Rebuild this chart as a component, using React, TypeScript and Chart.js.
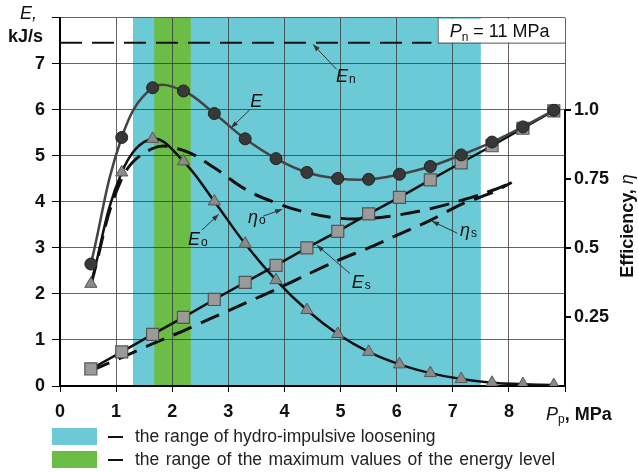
import { useEffect, useRef } from 'react';
import { Chart, registerables } from 'chart.js';

Chart.register(...registerables);

// ---- data ----
const pressure = [0.55, 1.1, 1.65, 2.2, 2.75, 3.3, 3.85, 4.4, 4.95, 5.5, 6.05, 6.6, 7.15, 7.7, 8.25, 8.8];
const energyTotal = [2.65, 5.4, 6.48, 6.41, 5.92, 5.37, 4.94, 4.64, 4.51, 4.49, 4.6, 4.77, 5.02, 5.3, 5.63, 5.99];
const energyO = [2.22, 4.64, 5.37, 4.88, 4.01, 3.09, 2.3, 1.65, 1.13, 0.74, 0.47, 0.28, 0.15, 0.07, 0.04, 0.02];
const energyS = [0.37, 0.74, 1.12, 1.49, 1.88, 2.25, 2.62, 3.0, 3.36, 3.74, 4.1, 4.48, 4.85, 5.22, 5.6, 5.98];
const etaPressure = [0.55, 1.1, 1.65, 2.2, 2.75, 3.3, 3.85, 4.4, 4.95, 5.5, 6.05, 6.6, 7.15, 7.7, 8.05];
const etaO = [0.367, 0.75, 0.86, 0.853, 0.79, 0.713, 0.663, 0.628, 0.608, 0.607, 0.62, 0.642, 0.672, 0.708, 0.737];
const etaS = [0.055, 0.103, 0.153, 0.2, 0.25, 0.3, 0.35, 0.403, 0.455, 0.5, 0.55, 0.6, 0.658, 0.7, 0.737];
const nominalEnergy = 7.46;
const nominalSpan = [0, 6.62];
const hydroRange = [1.3, 7.5];
const peakRange = [1.68, 2.33];
const xTickLabels = ['0', '1', '2', '3', '4', '5', '6', '7', '8'];
const energyTickLabels = ['0', '1', '2', '3', '4', '5', '6', '7'];
const etaTicks = [0.25, 0.5, 0.75, 1.0];
const etaTickLabels = ['0.25', '0.5', '0.75', '1.0'];
const legendLabels = [
  'the range of hydro-impulsive loosening',
  'the range of the maximum values of the energy level',
];

const FONT = '"Liberation Sans", Arial, sans-serif';
const CYAN = '#6ccad7';
const GREEN = '#6cbd45';

export default function App() {
  const canvasRef = useRef<HTMLCanvasElement | null>(null);

  useEffect(() => {
    const canvas = canvasRef.current;
    if (!canvas) return;

    const annotations = [
      { main: 'E', sub: '', x: 3.39, y: 6.06, from: [3.38, 6.0], to: [3.05, 5.61] },
      { main: 'E', sub: 'n', x: 4.92, y: 6.6, from: [4.93, 6.88], to: [4.51, 7.42] },
      { main: 'E', sub: 'o', x: 2.28, y: 3.06, from: [2.53, 3.39], to: [2.83, 3.73] },
      { main: 'η', sub: 'o', x: 3.35, y: 3.54, from: [3.62, 3.69], to: [3.96, 3.84] },
      { main: 'η', sub: 's', x: 7.13, y: 3.26, from: [7.08, 3.32], to: [6.63, 3.58] },
      { main: 'E', sub: 's', x: 5.2, y: 2.13, from: [5.17, 2.44], to: [4.58, 3.06] },
    ];

    const bandsPlugin = {
      id: 'bands',
      beforeDraw(chart: any) {
        const { ctx, chartArea, scales } = chart;
        ctx.save();
        ctx.fillStyle = '#ffffff';
        ctx.fillRect(0, 0, chart.width, chart.height);
        const x = scales.x;
        ctx.fillStyle = CYAN;
        ctx.fillRect(x.getPixelForValue(hydroRange[0]), chartArea.top,
          x.getPixelForValue(hydroRange[1]) - x.getPixelForValue(hydroRange[0]), chartArea.bottom - chartArea.top);
        ctx.fillStyle = GREEN;
        ctx.fillRect(x.getPixelForValue(peakRange[0]), chartArea.top,
          x.getPixelForValue(peakRange[1]) - x.getPixelForValue(peakRange[0]), chartArea.bottom - chartArea.top);
        ctx.restore();
      },
    };

    const arrow = (ctx: CanvasRenderingContext2D, x1: number, y1: number, x2: number, y2: number) => {
      ctx.strokeStyle = '#333';
      ctx.fillStyle = '#333';
      ctx.lineWidth = 1;
      ctx.beginPath();
      ctx.moveTo(x1, y1);
      ctx.lineTo(x2, y2);
      ctx.stroke();
      const a = Math.atan2(y2 - y1, x2 - x1);
      const L = 7, W = 2.5;
      ctx.beginPath();
      ctx.moveTo(x2, y2);
      ctx.lineTo(x2 - L * Math.cos(a) + W * Math.sin(a), y2 - L * Math.sin(a) - W * Math.cos(a));
      ctx.lineTo(x2 - L * Math.cos(a) - W * Math.sin(a), y2 - L * Math.sin(a) + W * Math.cos(a));
      ctx.closePath();
      ctx.fill();
    };

    const decorPlugin = {
      id: 'decor',
      afterDraw(chart: any) {
        const { ctx, chartArea, scales } = chart;
        const sx = scales.x, sy = scales.y, sy1 = scales.y1;
        ctx.save();

        // right axis black line (0 .. 1.0)
        ctx.strokeStyle = '#000';
        ctx.lineWidth = 2;
        ctx.beginPath();
        ctx.moveTo(chartArea.right, sy1.getPixelForValue(0) + 1);
        ctx.lineTo(chartArea.right, sy1.getPixelForValue(1.0));
        ctx.stroke();

        // P_n box
        const bx = sx.getPixelForValue(6.73);
        const by = sy.getPixelForValue(nominalEnergy);
        ctx.fillStyle = '#fff';
        ctx.fillRect(bx, chartArea.top + 1, chartArea.right - bx - 1, by - chartArea.top - 1);
        ctx.strokeStyle = '#555';
        ctx.lineWidth = 1;
        ctx.beginPath();
        ctx.moveTo(bx + 0.5, chartArea.top);
        ctx.lineTo(bx + 0.5, by + 0.5);
        ctx.lineTo(chartArea.right, by + 0.5);
        ctx.stroke();
        ctx.fillStyle = '#111';
        ctx.textBaseline = 'alphabetic';
        ctx.textAlign = 'left';
        let tx = bx + 12;
        const tb = chartArea.top + 19;
        ctx.font = `italic 18px ${FONT}`;
        ctx.fillText('P', tx, tb);
        tx += ctx.measureText('P').width;
        ctx.font = `12px ${FONT}`;
        ctx.fillText('n', tx, tb + 4);
        tx += ctx.measureText('n').width;
        ctx.font = `18px ${FONT}`;
        ctx.fillText(' = 11 MPa', tx, tb);

        // curve annotations
        for (const a of annotations) {
          arrow(ctx, sx.getPixelForValue(a.from[0]), sy.getPixelForValue(a.from[1]),
            sx.getPixelForValue(a.to[0]), sy.getPixelForValue(a.to[1]));
          const px = sx.getPixelForValue(a.x);
          const py = sy.getPixelForValue(a.y);
          ctx.fillStyle = '#111';
          ctx.font = `italic 18px ${FONT}`;
          ctx.fillText(a.main, px, py);
          const w = ctx.measureText(a.main).width;
          if (a.sub) {
            ctx.font = `12px ${FONT}`;
            ctx.fillText(a.sub, px + w + 1, py + 1);
          }
        }

        // left axis title
        ctx.fillStyle = '#111';
        ctx.font = `italic 18px ${FONT}`;
        ctx.fillText('E,', 20, 19);
        ctx.font = `bold 18px ${FONT}`;
        ctx.fillText('kJ/s', 8, 42);

        // bottom axis title
        let ax = 546;
        const ab = 420;
        ctx.font = `italic 18px ${FONT}`;
        ctx.fillText('P', ax, ab);
        ax += ctx.measureText('P').width;
        ctx.font = `12px ${FONT}`;
        ctx.fillText('p', ax, ab + 3);
        ax += ctx.measureText('p').width;
        ctx.font = `bold 18px ${FONT}`;
        ctx.fillText(', MPa', ax, ab);

        // right axis title (rotated)
        ctx.save();
        ctx.translate(633, 226);
        ctx.rotate(-Math.PI / 2);
        ctx.font = `bold 18px ${FONT}`;
        const t1 = 'Efficiency, ';
        const w1 = ctx.measureText(t1).width;
        ctx.font = `italic 18px ${FONT}`;
        const w2 = ctx.measureText('η').width;
        const start = -(w1 + w2) / 2;
        ctx.font = `bold 18px ${FONT}`;
        ctx.fillText(t1, start, 0);
        ctx.font = `italic 18px ${FONT}`;
        ctx.fillText('η', start + w1, 0);
        ctx.restore();

        // legend
        const rows = [
          { color: CYAN, y: 428, ws: '0px' },
          { color: GREEN, y: 451, ws: '1.5px' },
        ];
        rows.forEach((r, i) => {
          ctx.fillStyle = r.color;
          ctx.fillRect(52, r.y, 45, 17);
          ctx.strokeStyle = '#111';
          ctx.lineWidth = 2;
          ctx.beginPath();
          ctx.moveTo(108, r.y + 9);
          ctx.lineTo(123, r.y + 9);
          ctx.stroke();
          ctx.fillStyle = '#222';
          ctx.font = `17.5px ${FONT}`;
          ctx.textBaseline = 'middle';
          (ctx as any).wordSpacing = r.ws;
          ctx.fillText(legendLabels[i], 135, r.y + 9);
          (ctx as any).wordSpacing = '0px';
          ctx.textBaseline = 'alphabetic';
        });

        ctx.restore();
      },
    };

    const gridColor = 'rgba(60,60,60,0.8)';
    const tickFont = { family: FONT, size: 18, weight: 'bold' as const };

    const chart = new Chart(canvas, {
      type: 'line',
      data: {
        datasets: [
          {
            label: 'E',
            data: pressure.map((x, i) => ({ x, y: energyTotal[i] })),
            yAxisID: 'y',
            borderColor: '#444',
            borderWidth: 2.5,
            tension: 0.4,
            pointStyle: 'circle',
            pointRadius: 6,
            pointBackgroundColor: '#383838',
            pointBorderColor: '#222',
            pointBorderWidth: 1,
          },
          {
            label: 'Eo',
            data: pressure.map((x, i) => ({ x, y: energyO[i] })),
            yAxisID: 'y',
            borderColor: '#111',
            borderWidth: 2.5,
            tension: 0.4,
            pointStyle: 'triangle',
            pointRadius: 7,
            pointBackgroundColor: '#8a8a8a',
            pointBorderColor: '#555',
            pointBorderWidth: 1,
          },
          {
            label: 'Es',
            data: pressure.map((x, i) => ({ x, y: energyS[i] })),
            yAxisID: 'y',
            borderColor: '#111',
            borderWidth: 2.5,
            tension: 0,
            pointStyle: 'rect',
            pointRadius: 8.5,
            pointBackgroundColor: '#9a9a9a',
            pointBorderColor: '#555',
            pointBorderWidth: 1.2,
          },
          {
            label: 'eta_o',
            data: etaPressure.map((x, i) => ({ x, y: etaO[i] })),
            yAxisID: 'y1',
            borderColor: '#111',
            borderWidth: 3,
            borderDash: [20, 10],
            tension: 0.4,
            pointRadius: 0,
          },
          {
            label: 'eta_s',
            data: etaPressure.map((x, i) => ({ x, y: etaS[i] })),
            yAxisID: 'y1',
            borderColor: '#111',
            borderWidth: 3,
            borderDash: [20, 10],
            tension: 0.3,
            pointRadius: 0,
          },
          {
            label: 'En',
            data: nominalSpan.map((x) => ({ x, y: nominalEnergy })),
            yAxisID: 'y',
            borderColor: '#111',
            borderWidth: 2,
            borderDash: [22, 10],
            pointRadius: 0,
          },
        ],
      },
      options: {
        responsive: false,
        animation: false,
        events: [],
        layout: { padding: { top: 15, left: 0, right: 0, bottom: 0 } },
        plugins: { legend: { display: false }, tooltip: { enabled: false } },
        scales: {
          x: {
            type: 'linear',
            position: 'bottom',
            min: 0,
            max: 9,
            ticks: {
              stepSize: 1,
              font: tickFont,
              color: '#111',
              padding: 9,
              maxRotation: 0,
              autoSkip: false,
              callback: (v: any) => (xTickLabels[Number(v)] ?? ''),
            },
            grid: { color: gridColor, lineWidth: 1, tickColor: '#000', tickLength: 6 },
            border: { color: '#000', width: 2 },
            afterFit: (s: any) => { s.height = 86; },
          },
          y: {
            type: 'linear',
            position: 'left',
            min: 0,
            max: 8,
            ticks: {
              stepSize: 1,
              font: tickFont,
              color: '#111',
              padding: 7,
              callback: (v: any) => (energyTickLabels[Number(v)] ?? ''),
            },
            grid: { color: gridColor, lineWidth: 1, tickColor: '#000', tickLength: 8 },
            border: { color: '#000', width: 2 },
            afterFit: (s: any) => { s.width = 60; },
          },
          y1: {
            type: 'linear',
            position: 'right',
            min: 0,
            max: 8 / 6,
            afterBuildTicks: (s: any) => { s.ticks = etaTicks.map((value) => ({ value })); },
            ticks: {
              font: tickFont,
              color: '#111',
              padding: 3,
              callback: (v: any) => {
                const i = etaTicks.indexOf(Number(v));
                return i >= 0 ? etaTickLabels[i] : '';
              },
            },
            grid: { drawOnChartArea: false, tickColor: '#000', tickLength: 6, lineWidth: 2 },
            border: { display: false },
            afterFit: (s: any) => { s.width = 73; },
          },
        },
      },
      plugins: [bandsPlugin, decorPlugin],
    });

    return () => chart.destroy();
  }, []);

  return (
    <div style={{ position: 'absolute', left: 0, top: 0, width: 638, height: 472, background: '#fff' }}>
      <canvas ref={canvasRef} width={638} height={472} style={{ width: 638, height: 472 }} />
    </div>
  );
}
